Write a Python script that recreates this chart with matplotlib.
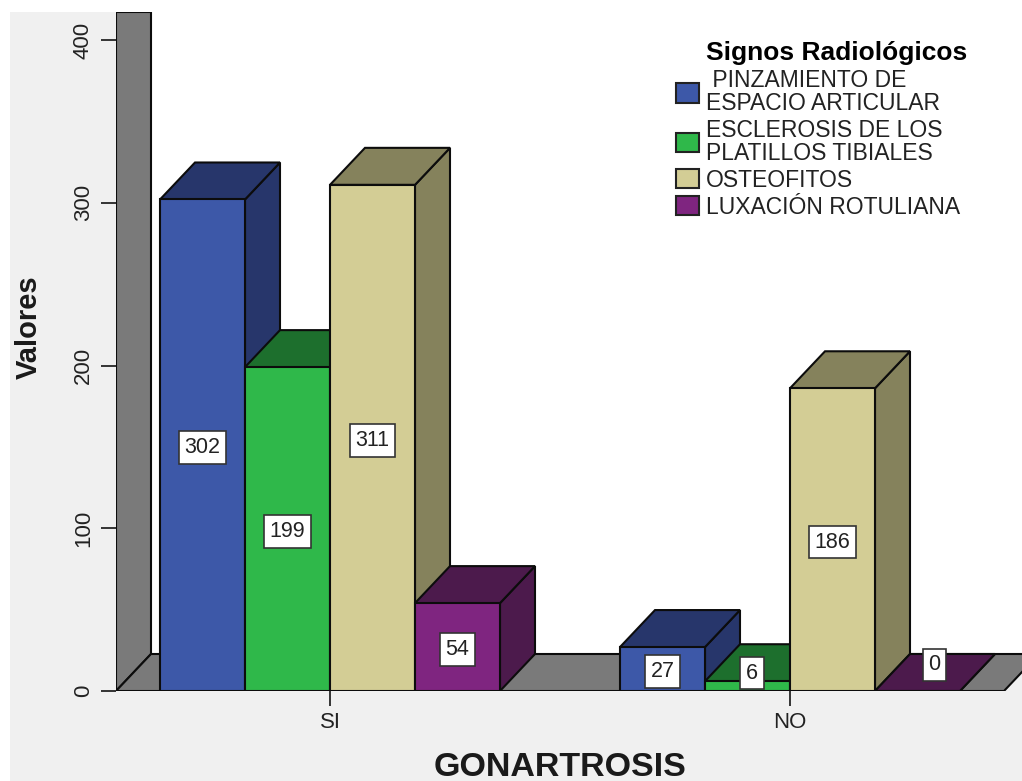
import matplotlib
matplotlib.use("Agg")
import matplotlib.pyplot as plt
from matplotlib.patches import Patch, Polygon, Rectangle

plt.rcParams["font.family"] = ["Liberation Sans", "DejaVu Sans"]

# Data
categories = ["SI", "NO"]
series_names = [
    " PINZAMIENTO DE\nESPACIO ARTICULAR",
    "ESCLEROSIS DE LOS\nPLATILLOS TIBIALES",
    "OSTEOFITOS",
    "LUXACIÓN ROTULIANA",
]
pinzamiento = [302, 27]
esclerosis = [199, 6]
osteofitos = [311, 186]
luxacion = [54, 0]
y_ticks = [0, 100, 200, 300, 400]

series_values = [pinzamiento, esclerosis, osteofitos, luxacion]
front_colors = ["#3d58a8", "#2fb84a", "#d3cd95", "#7f2580"]
shade_colors = ["#27366b", "#1d6f2d", "#85825c", "#4c1a4c"]
wall_color = "#7a7a7a"
panel_color = "#f0f0f0"
edge = "#0c0c0c"
text_color = "#222222"

W, H = 1022, 781
fig = plt.figure(figsize=(W / 100, H / 100), dpi=100, facecolor="white")
fig.patches.append(Rectangle((10 / W, 0), (W - 10) / W, (H - 12) / H,
                             transform=fig.transFigure, facecolor=panel_color,
                             edgecolor="none", zorder=-5))

# Plot region in figure pixels
left, right, top, bottom = 116, 1022, 12, 691
ax = fig.add_axes([left / W, (H - bottom) / H, (right - left) / W, (bottom - top) / H])
ax.set_facecolor("white")

x_scale = 460.0   # pixels per category step
y_scale = 1.6275  # pixels per unit
ax.set_xlim((left - 330) / x_scale, (right - 330) / x_scale)
ax.set_ylim(0, (bottom - top) / y_scale)
for spine in ax.spines.values():
    spine.set_visible(False)

x0, x1 = ax.get_xlim()
y_top = ax.get_ylim()[1]
depth_x = 35 / x_scale
depth_y = 37 / y_scale
bar_w = 85 / x_scale
lw = 1.5

# Back wall and floor of the 3D box; the plot panel shows again below the slanted floor end
floor_end = (1004 - 330) / x_scale
ax.add_patch(Polygon([(floor_end, 0), (floor_end + depth_x, depth_y), (x1, depth_y), (x1, 0)],
                     facecolor=panel_color, edgecolor="none", zorder=0.5))
ax.add_patch(Polygon([(x0, 0), (x0 + depth_x, depth_y), (x0 + depth_x, y_top), (x0, y_top)],
                     facecolor=wall_color, edgecolor=edge, lw=lw, zorder=1))
ax.add_patch(Polygon([(x0, 0), (x0 + depth_x, depth_y), (floor_end + depth_x, depth_y), (floor_end, 0)],
                     facecolor=wall_color, edgecolor=edge, lw=lw, zorder=1))

# Extruded bars, painted left to right so nearer faces cover their neighbours
order = 2
for c, _ in enumerate(categories):
    for s, values in enumerate(series_values):
        v = values[c]
        xa = c + (s - 2) * bar_w
        xb = xa + bar_w
        ax.add_patch(Polygon([(xb, 0), (xb + depth_x, depth_y), (xb + depth_x, v + depth_y), (xb, v)],
                             facecolor=shade_colors[s], edgecolor=edge, lw=lw, zorder=order))
        ax.add_patch(Polygon([(xa, v), (xa + depth_x, v + depth_y), (xb + depth_x, v + depth_y), (xb, v)],
                             facecolor=shade_colors[s], edgecolor=edge, lw=lw, zorder=order))
        ax.bar(xa, v, width=bar_w, align="edge", color=front_colors[s],
               edgecolor=edge, lw=lw, zorder=order)
        order += 1

# Value labels: centred on the front face, small bars lifted onto the top face
box = dict(boxstyle="square,pad=0.27", facecolor="white", edgecolor="#333333", lw=1.2)
for c, _ in enumerate(categories):
    for s, values in enumerate(series_values):
        v = values[c]
        xa = c + (s - 2) * bar_w
        dx, dy = 0, -2.5 / y_scale
        if v < 10:
            dx, dy = (4.5 / x_scale, 13 / y_scale) if v else (17 / x_scale, 26 / y_scale)
        ax.text(xa + bar_w / 2 + dx, v / 2 + dy, str(v), ha="center", va="center",
                fontsize=15.5, color=text_color, bbox=box, zorder=50)

# Axes furniture
ax.set_yticks(y_ticks)
ax.set_xticks(range(len(categories)), categories)
ax.tick_params(axis="y", length=11, width=1.4, pad=5, labelsize=16,
               labelrotation=90, color="#333333", labelcolor=text_color)
ax.tick_params(axis="x", length=11, width=1.4, pad=4, labelsize=16,
               color="#333333", labelcolor=text_color)
for label in ax.get_yticklabels():
    label.set_va("center")

ax.set_xlabel("GONARTROSIS", fontsize=24.5, fontweight="bold", color="#1a1a1a")
ax.xaxis.set_label_coords((560 - left) / (right - left), -(767 - bottom) / (bottom - top))
ax.xaxis.label.set_va("center")
ax.set_ylabel("Valores", fontsize=21, fontweight="bold", color="#1a1a1a")
ax.yaxis.set_label_coords((29 - left) / (right - left), (bottom - 327) / (bottom - top))
ax.yaxis.label.set_va("center")

# Legend
handles = [Patch(facecolor=f, edgecolor="#222222", lw=1.5) for f in front_colors]
leg = ax.legend(handles, series_names, title="Signos Radiológicos", frameon=False,
                loc="upper left", bbox_to_anchor=(676 / W, (H - 41) / H),
                bbox_transform=fig.transFigure, fontsize=16.5, handlelength=1.0,
                handleheight=0.9, handletextpad=0.32, labelspacing=0.17,
                borderpad=0, borderaxespad=0, alignment="right",
                title_fontproperties={"size": 19, "weight": "bold", "family": "Liberation Sans"})
leg.set_zorder(60)
leg.get_title().set_x(7)
for t in leg.get_texts():
    t.set_linespacing(1.0)
    t.set_color(text_color)

fig.savefig("out.png", dpi=100)
